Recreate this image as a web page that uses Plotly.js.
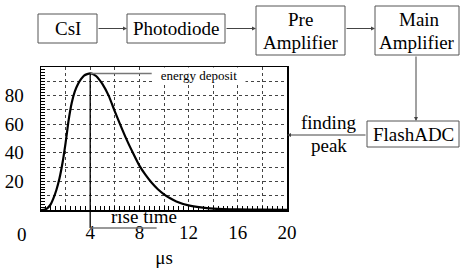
<!DOCTYPE html>
<html>
<head>
<meta charset="utf-8">
<script src="https://cdn.plot.ly/plotly-3.0.1.min.js"></script>
<style>html,body{margin:0;padding:0;background:#fff;}#chart{width:461px;height:269px;}</style>
</head>
<body>
<div id="chart"></div>
<script>
// ---- data ----
const timeUs = [0,0.25,0.5,0.75,1,1.25,1.5,1.75,2,2.25,2.5,2.75,3,3.25,3.5,3.75,4,4.25,4.5,4.75,5,5.5,6,6.5,7,7.5,8,8.5,9,9.5,10,10.5,11,12,13,14,16,18,20];
const amplitude = [0,0.2,1.2,3.5,8,14,22,33,47,63,75,83,88,91.5,94,95,95.5,95,93.5,91,88,80,69,58.5,48.5,39.5,31,24.5,19,14.5,11,8.2,6,3.2,1.8,1,0.4,0.2,0.1];
const xTickVals = [0,2,4,6,8,10,12,14,16,18,20];
const xTickText = ['','','4','','8','','12','','16','','20'];
const yTickVals = [0,10,20,30,40,50,60,70,80,90,100];
const yTickText = ['','','20','','40','','60','','80','',''];
const blocks = ['CsI','Photodiode','Pre','Amplifier','Main','Amplifier','FlashADC'];
const notes = ['energy deposit','rise time','finding','peak','0','μs'];
const peakTime = 4;

// ---- geometry helpers (pixels -> paper) ----
const W = 461, H = 269;
const L = 41, T = 67, PW = 246, PH = 143;
const px = v => (v - L) / PW;
const py = v => (T + PH - v) / PH;
const serif = 'Liberation Serif, serif';
const font19 = {family: serif, size: 19, color: '#000'};

const peakVal = Math.max(...amplitude);

const trace = {
  x: timeUs, y: amplitude, type: 'scatter', mode: 'lines',
  line: {color: '#000', width: 2.2, shape: 'spline', smoothing: 0.5},
  hoverinfo: 'skip', showlegend: false, cliponaxis: false
};

const boxLine = {color: '#555', width: 1};
function rect(x0, y0, x1, y1) {
  return {type: 'rect', xref: 'paper', yref: 'paper', x0: px(x0), x1: px(x1), y0: py(y1), y1: py(y0), line: boxLine, fillcolor: 'rgba(0,0,0,0)', layer: 'above'};
}
function label(text, cx, cy, f) {
  return {text: text, xref: 'paper', yref: 'paper', x: px(cx), y: py(cy), xanchor: 'center', yanchor: 'middle', showarrow: false, font: f || font19};
}
function arrow(x0, y0, x1, y1) {
  return {text: '', xref: 'paper', yref: 'paper', x: px(x1), y: py(y1), ax: x0 - x1, ay: y0 - y1, axref: 'pixel', ayref: 'pixel',
    showarrow: true, arrowhead: 2, arrowsize: 0.8, arrowwidth: 1, arrowcolor: '#444', standoff: 0, startstandoff: 0};
}

const shapes = [
  rect(38, 14, 97, 43),
  rect(127, 14, 225, 43),
  rect(256, 6, 345, 55),
  rect(375, 6, 459, 55),
  rect(367, 121, 459, 147),
  {type: 'line', xref: 'x', yref: 'y', x0: peakTime, x1: 9.0, y0: peakVal, y1: peakVal, line: {color: '#777', width: 1.5}, layer: 'above'},
  {type: 'line', xref: 'x', yref: 'paper', x0: peakTime, x1: peakTime, y0: peakVal / 100, y1: py(228), line: {color: '#000', width: 1.3}, layer: 'above'},
  {type: 'line', xref: 'x', yref: 'paper', x0: peakTime, x1: 9.4, y0: py(228), y1: py(228), line: {color: '#777', width: 1.5}, layer: 'above'}
];

const annotations = [
  label(blocks[0], 67.5, 28.5),
  label(blocks[1], 176, 28.5),
  label(blocks[2], 300.5, 20),
  label(blocks[3], 300.5, 42),
  label(blocks[4], 419, 20),
  label(blocks[5], 417, 42),
  label(blocks[6], 413, 134),
  arrow(97, 28.5, 127, 28.5),
  arrow(225, 28.5, 256, 28.5),
  arrow(345, 28.5, 375, 28.5),
  arrow(416, 55, 416, 121),
  arrow(367, 135, 287, 135),
  Object.assign(label(notes[0], 199, 75, {family: serif, size: 13, color: '#000'}), {bgcolor: '#fff', width: 92, height: 15, borderpad: 0}),
  label(notes[1], 143.5, 216),
  label(notes[2], 328, 122),
  label(notes[3], 329, 145),
  label(notes[4], 21.7, 234)
];

const layout = {
  width: W, height: H,
  margin: {l: L, r: W - L - PW, t: T, b: H - T - PH, pad: 0},
  paper_bgcolor: '#fff', plot_bgcolor: '#fff',
  showlegend: false,
  font: {family: serif, size: 19, color: '#000'},
  xaxis: {
    range: [0, 20], tickmode: 'array', tickvals: xTickVals, ticktext: xTickText,
    ticks: 'inside', ticklen: 4, tickcolor: '#000', tickwidth: 1,
    minor: {tickmode: 'linear', tick0: 0, dtick: 0.4, ticks: 'inside', ticklen: 4, tickcolor: '#000', showgrid: false},
    showgrid: true, gridcolor: '#444', gridwidth: 1, griddash: 'dot',
    showline: true, linecolor: '#000', linewidth: 1.5, mirror: true, zeroline: false,
    tickfont: font19, ticklabelstandoff: 5, automargin: false,
    title: {text: notes[5], font: font19, standoff: 8}
  },
  yaxis: {
    range: [0, 100], tickmode: 'array', tickvals: yTickVals, ticktext: yTickText,
    ticks: 'inside', ticklen: 4, tickcolor: '#000', tickwidth: 1,
    minor: {tickmode: 'linear', tick0: 0, dtick: 2, ticks: 'inside', ticklen: 4, tickcolor: '#000', showgrid: false},
    showgrid: true, gridcolor: '#444', gridwidth: 1, griddash: 'dot',
    showline: true, linecolor: '#000', linewidth: 1.5, mirror: true, zeroline: false,
    tickfont: font19, ticklabelstandoff: 12, automargin: false
  },
  shapes: shapes,
  annotations: annotations
};

Plotly.newPlot('chart', [trace], layout, {staticPlot: true, displayModeBar: false});
</script>
</body>
</html>
